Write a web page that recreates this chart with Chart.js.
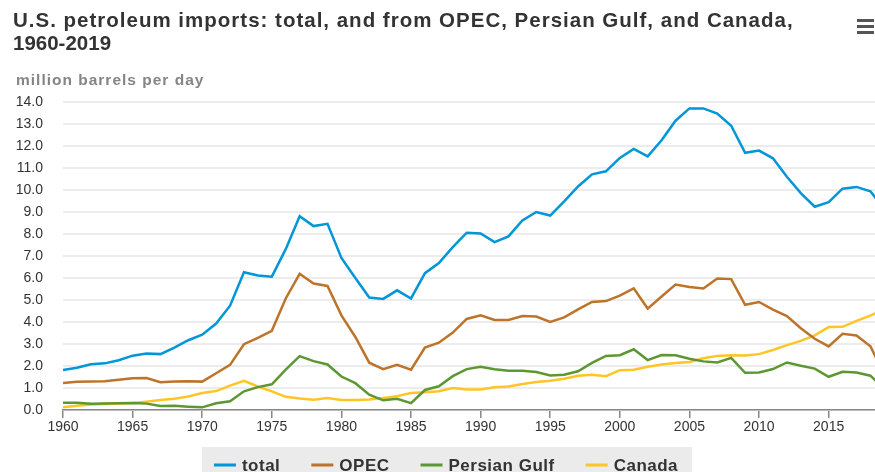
<!DOCTYPE html>
<html>
<head>
<meta charset="utf-8">
<script src="https://cdn.jsdelivr.net/npm/chart.js@4.4.1/dist/chart.umd.min.js"></script>
<style>
  html, body { margin: 0; padding: 0; background: #fff; }
  #wrap { position: relative; width: 875px; height: 472px; }
</style>
</head>
<body>
<div id="wrap"><canvas id="chart" width="875" height="472"></canvas></div>
<script>
const years = [1960,1961,1962,1963,1964,1965,1966,1967,1968,1969,
  1970,1971,1972,1973,1974,1975,1976,1977,1978,1979,
  1980,1981,1982,1983,1984,1985,1986,1987,1988,1989,
  1990,1991,1992,1993,1994,1995,1996,1997,1998,1999,
  2000,2001,2002,2003,2004,2005,2006,2007,2008,2009,
  2010,2011,2012,2013,2014,2015,2016,2017,2018,2019];

const total = [1.82,1.92,2.08,2.12,2.26,2.47,2.57,2.54,2.84,3.17,
  3.42,3.93,4.74,6.26,6.11,6.06,7.31,8.81,8.36,8.46,
  6.91,6.00,5.11,5.05,5.44,5.07,6.22,6.68,7.40,8.06,
  8.02,7.63,7.89,8.62,9.00,8.84,9.48,10.16,10.71,10.85,
  11.46,11.87,11.53,12.26,13.15,13.71,13.71,13.47,12.92,11.69,
  11.79,11.44,10.60,9.86,9.24,9.45,10.06,10.14,9.94,9.14];

const opec = [1.23,1.28,1.29,1.31,1.37,1.44,1.45,1.26,1.29,1.31,
  1.29,1.67,2.05,2.99,3.28,3.60,5.07,6.19,5.75,5.64,
  4.30,3.32,2.15,1.86,2.05,1.83,2.84,3.06,3.52,4.14,
  4.30,4.09,4.09,4.27,4.25,4.00,4.21,4.57,4.91,4.95,
  5.20,5.53,4.61,5.16,5.70,5.59,5.52,5.98,5.95,4.78,
  4.91,4.56,4.27,3.72,3.24,2.89,3.46,3.39,2.90,1.60];

const persianGulf = [0.33,0.33,0.28,0.30,0.31,0.32,0.29,0.18,0.19,0.15,
  0.12,0.31,0.40,0.85,1.04,1.17,1.84,2.45,2.22,2.07,
  1.52,1.22,0.70,0.44,0.51,0.31,0.91,1.08,1.54,1.86,
  1.97,1.85,1.78,1.78,1.73,1.57,1.60,1.76,2.14,2.46,
  2.49,2.76,2.27,2.50,2.49,2.33,2.21,2.16,2.37,1.69,
  1.71,1.86,2.16,2.01,1.88,1.51,1.74,1.70,1.56,0.95];

const canada = [0.12,0.19,0.25,0.27,0.30,0.32,0.38,0.45,0.51,0.61,
  0.77,0.86,1.11,1.33,1.07,0.85,0.60,0.52,0.47,0.54,
  0.46,0.45,0.48,0.55,0.63,0.77,0.81,0.85,1.00,0.93,
  0.93,1.03,1.07,1.18,1.27,1.33,1.42,1.56,1.60,1.54,
  1.81,1.83,1.97,2.07,2.14,2.18,2.35,2.46,2.49,2.48,
  2.54,2.73,2.95,3.14,3.39,3.77,3.78,4.05,4.29,4.60];

const seriesNames = ['total', 'OPEC', 'Persian Gulf', 'Canada'];
const seriesColors = ['#0096d7', '#bd732a', '#5d9732', '#ffc425'];
const xTickYears = [1960,1965,1970,1975,1980,1985,1990,1995,2000,2005,2010,2015];
const titleLines = ['U.S. petroleum imports: total, and from OPEC, Persian Gulf, and Canada,', '1960-2019'];
const unitLabel = 'million barrels per day';

const FONT = '"Liberation Sans", Arial, Helvetica, sans-serif';

// title, unit label, legend strip and menu icon
const decorations = {
  id: 'decorations',
  afterDraw(chart) {
    const ctx = chart.ctx;
    ctx.save();
    ctx.textBaseline = 'alphabetic';
    ctx.textAlign = 'left';

    ctx.font = 'bold 20.5px ' + FONT;
    ctx.fillStyle = '#333';
    ctx.letterSpacing = '1px';
    ctx.fillText(titleLines[0], 13, 27);
    ctx.letterSpacing = '0px';
    ctx.fillText(titleLines[1], 13, 50);

    ctx.letterSpacing = '1px';
    ctx.font = 'bold 15.5px ' + FONT;
    ctx.fillStyle = '#858585';
    ctx.fillText(unitLabel, 16, 85);

    ctx.letterSpacing = '0.5px';
    ctx.font = 'bold 17px ' + FONT;
    const lineLen = 22, gapText = 6, gapItem = 31;
    const items = chart.data.datasets.map(ds => ({
      label: ds.label, color: ds.borderColor, w: ctx.measureText(ds.label).width
    }));
    let W = 0;
    items.forEach((it, i) => { W += lineLen + gapText + it.w + (i ? gapItem : 0); });
    let x = 446 - W / 2;
    const y = 465;
    ctx.fillStyle = '#ebebeb';
    ctx.fillRect(x - 12, 447, W + 26, 30);
    ctx.textBaseline = 'middle';
    items.forEach(it => {
      ctx.fillStyle = it.color;
      ctx.fillRect(x, y - 1.5, lineLen, 3);
      x += lineLen + gapText;
      ctx.fillStyle = '#333';
      ctx.fillText(it.label, x, y + 1);
      x += it.w + gapItem;
    });

    ctx.fillStyle = '#555';
    [19, 25, 31].forEach(yy => ctx.fillRect(857, yy, 17, 3));
    ctx.restore();
  }
};

const seriesData = [total, opec, persianGulf, canada];

new Chart(document.getElementById('chart'), {
  type: 'line',
  data: {
    labels: years,
    datasets: seriesData.map((d, i) => ({
      label: seriesNames[i],
      data: d,
      borderColor: seriesColors[i],
      backgroundColor: seriesColors[i],
      borderWidth: 2.5,
      pointRadius: 0,
      tension: 0,
      fill: false
    }))
  },
  options: {
    responsive: false,
    animation: false,
    devicePixelRatio: 1,
    layout: { padding: { left: 12, right: 0, top: 102, bottom: 34 } },
    plugins: {
      legend: { display: false },
      tooltip: { enabled: false },
      title: { display: false }
    },
    scales: {
      x: {
        type: 'linear',
        min: 1960,
        max: 2018.33,
        afterBuildTicks: s => { s.ticks = xTickYears.map(v => ({ value: v })); },
        afterFit: s => { s.height = 28; },
        ticks: {
          color: '#333',
          font: { family: FONT, size: 14 },
          padding: 1,
          maxRotation: 0,
          autoSkip: false,
          callback: v => String(v)
        },
        grid: { drawOnChartArea: false, tickLength: 8, color: '#888', lineWidth: 1.5 },
        border: { color: '#888', width: 1.5 }
      },
      y: {
        min: 0,
        max: 14,
        afterFit: s => { s.width = 51; },
        ticks: {
          stepSize: 1,
          color: '#333',
          font: { family: FONT, size: 14 },
          padding: 20,
          callback: v => v.toFixed(1)
        },
        grid: { color: '#ececec', lineWidth: 2, drawTicks: false },
        border: { display: false }
      }
    }
  },
  plugins: [decorations]
});
</script>
</body>
</html>
